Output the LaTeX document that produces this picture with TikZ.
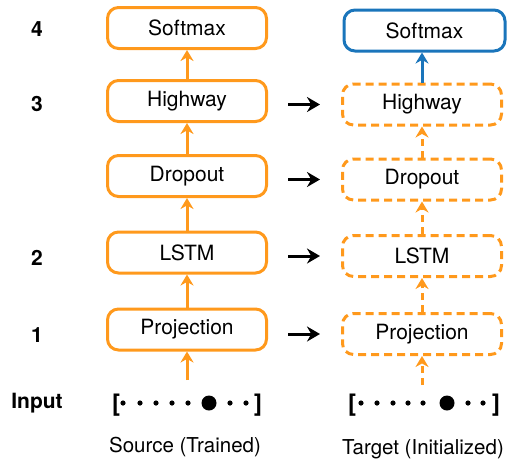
\documentclass[tikz,border=0pt]{standalone}
\usepackage{fontspec}
\setmainfont{TeX Gyre Heros}
\usetikzlibrary{arrows.meta}
\definecolor{srcorange}{RGB}{255,153,28}
\definecolor{tgtblue}{RGB}{26,117,187}

\begin{document}
\begin{tikzpicture}[x=1pt,y=-1pt,
  txt/.style={font=\fontsize{21}{24}\selectfont},
  layer/.style={txt, draw=srcorange, line width=3pt, rounded corners=11pt,
    minimum width=159pt, minimum height=41pt, inner sep=0pt},
  dlayer/.style={layer, dash pattern=on 8pt off 5pt},
  tlayer/.style={layer, draw=tgtblue},
  num/.style={font=\fontsize{21}{24}\selectfont\bfseries},
  brk/.style={font=\fontsize{24}{28}\selectfont\bfseries, inner sep=0pt},
  up/.style={draw=srcorange, line width=3pt, -{Stealth[length=11pt,width=13pt]}},
  upd/.style={up, dash pattern=on 7pt off 5pt},
  upb/.style={up, draw=tgtblue},
  copyarrow/.style={draw=black, line width=3pt, -{Stealth[length=13pt,width=15pt]},
    shorten <=20pt, shorten >=21pt},
]
\useasboundingbox (0,0) rectangle (508,461);

% source model (trained)
\node[layer] (ls) at (187,28) {Softmax};
\node[layer] (lh) at (187,101) {Highway};
\node[layer] (ld) at (187,176) {Dropout};
\node[layer] (ll) at (187,252.5) {LSTM};
\node[layer] (lp) at (187,329.5) {Projection};

% target model (initialized)
\node[tlayer, minimum width=161pt] (rs) at (424.5,30.5) {Softmax};
\node[dlayer] (rh) at (422,104.5) {Highway};
\node[dlayer] (rd) at (422,179.5) {Dropout};
\node[dlayer] (rl) at (422,256) {LSTM};
\node[dlayer] (rp) at (422,334) {Projection};

% layer numbers
\node[num] (n4) at (37,29) {4};
\node[num] (n3) at (37,104) {3};
\node[num] (n2) at (37,258) {2};
\node[num] (n1) at (37,335) {1};
\node[num] (nin) at (37,403) {Input};

% input sequences
\node[brk] (lbl) at (116,405) {[};
\node[brk] (lbr) at (258,405) {]};
\foreach \x in {123,140,156,172,188,230,246} \fill (\x,403) circle (2.6);
\fill (209,403) circle (7.5);

\node[brk] (rbl) at (352,405) {[};
\node[brk] (rbr) at (496,405) {]};
\foreach \x in {361,377,393,408,423,468,483} \fill (\x,403) circle (2.6);
\fill (447,403) circle (7.5);

\coordinate (lin) at (187,380);
\coordinate (rin) at (422,385);

% forward connections, source
\draw[up] (lin) -- (lp.south);
\draw[up] (lp.north) -- (ll.south);
\draw[up] (ll.north) -- (ld.south);
\draw[up] (ld.north) -- (lh.south);
\draw[up] (lh.north) -- (ls.south);

% forward connections, target
\draw[upd] (rin) -- (rp.south);
\draw[upd] (rp.north) -- (rl.south);
\draw[upd] (rl.north) -- (rd.south);
\draw[upd] (rd.north) -- (rh.south);
\draw[upb] (rh.north) -- (rh.north |- rs.south);

% weight transfer
\draw[copyarrow] (rh.west -| lh.east) -- (rh.west);
\draw[copyarrow] (rd.west -| ld.east) -- (rd.west);
\draw[copyarrow] (rl.west -| ll.east) -- (rl.west);
\draw[copyarrow] (rp.west -| lp.east) -- (rp.west);

% captions
\node[txt, font=\fontsize{20.5}{24}\selectfont] (capL) at (185,447) {Source (Trained)};
\node[txt, font=\fontsize{20.5}{24}\selectfont] (capR) at (423,449) {Target (Initialized)};
\end{tikzpicture}
\end{document}
